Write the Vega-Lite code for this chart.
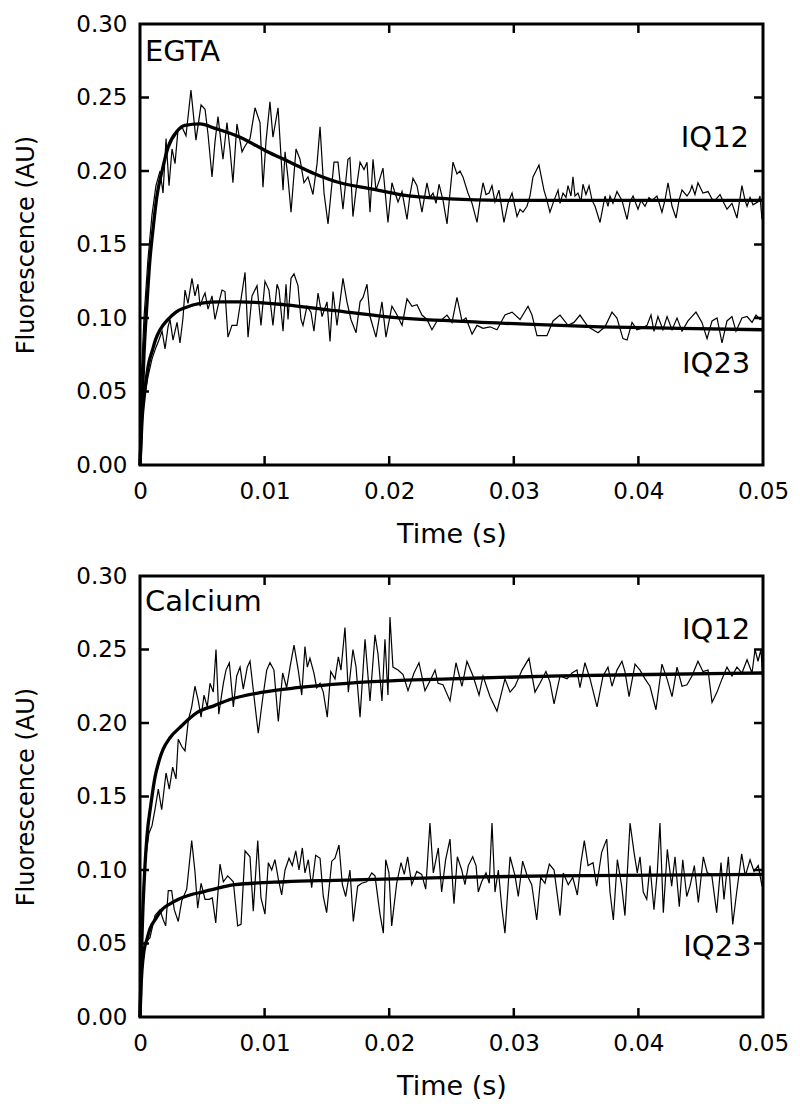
{
  "$schema": "https://vega.github.io/schema/vega-lite/v6.json",
  "padding": {"left": 13, "top": 11, "right": 5, "bottom": 5},
  "spacing": 14,
  "config": {
    "view": {"stroke": "black", "strokeWidth": 3},
    "axis": {
      "domain": false, "grid": false, "ticks": false, "tickSize": 0,
      "labelFont": "DejaVu Sans", "labelFontSize": 23, "labelColor": "black",
      "titleFont": "DejaVu Sans", "titleColor": "black", "titleFontWeight": "normal",
      "labelFlush": false, "labelOverlap": false
    }
  },
  "datasets": {
    "ticks": [
      {"t":0,"t2":0.00072,"v":0.05,"v2":0.05},{"t":0,"t2":0.00072,"v":0.1,"v2":0.1},{"t":0,"t2":0.00072,"v":0.15,"v2":0.15},{"t":0,"t2":0.00072,"v":0.2,"v2":0.2},{"t":0,"t2":0.00072,"v":0.25,"v2":0.25},
      {"t":0.04928,"t2":0.05,"v":0.05,"v2":0.05},{"t":0.04928,"t2":0.05,"v":0.1,"v2":0.1},{"t":0.04928,"t2":0.05,"v":0.15,"v2":0.15},{"t":0.04928,"t2":0.05,"v":0.2,"v2":0.2},{"t":0.04928,"t2":0.05,"v":0.25,"v2":0.25},
      {"t":0.01,"t2":0.01,"v":0,"v2":0.0061},{"t":0.02,"t2":0.02,"v":0,"v2":0.0061},{"t":0.03,"t2":0.03,"v":0,"v2":0.0061},{"t":0.04,"t2":0.04,"v":0,"v2":0.0061},
      {"t":0.01,"t2":0.01,"v":0.2939,"v2":0.3},{"t":0.02,"t2":0.02,"v":0.2939,"v2":0.3},{"t":0.03,"t2":0.03,"v":0.2939,"v2":0.3},{"t":0.04,"t2":0.04,"v":0.2939,"v2":0.3}
    ],
    "e12": [
      {"t":0,"v":0.04},{"t":0.00032,"v":0.10},{"t":0.00064,"v":0.14},{"t":0.00096,"v":0.17},{"t":0.00128,"v":0.19},{"t":0.00161,"v":0.20},{"t":0.00185,"v":0.185},{"t":0.00209,"v":0.222},{"t":0.00233,"v":0.19},{"t":0.00257,"v":0.215},{"t":0.00281,"v":0.205},{"t":0.00305,"v":0.228},{"t":0.00337,"v":0.230},{"t":0.00369,"v":0.224},{"t":0.00409,"v":0.255},{"t":0.00449,"v":0.221},{"t":0.0049,"v":0.245},{"t":0.00522,"v":0.242},{"t":0.00546,"v":0.225},{"t":0.00578,"v":0.196},{"t":0.00602,"v":0.22},{"t":0.00626,"v":0.237},{"t":0.00666,"v":0.208},{"t":0.00698,"v":0.233},{"t":0.00722,"v":0.215},{"t":0.00746,"v":0.192},{"t":0.00778,"v":0.232},{"t":0.00819,"v":0.213},{"t":0.00843,"v":0.217},{"t":0.00883,"v":0.222},{"t":0.00923,"v":0.243},{"t":0.00963,"v":0.233},{"t":0.00987,"v":0.189},{"t":0.01011,"v":0.22},{"t":0.01043,"v":0.247},{"t":0.01067,"v":0.223},{"t":0.01108,"v":0.243},{"t":0.01148,"v":0.187},{"t":0.01164,"v":0.213},{"t":0.01188,"v":0.195},{"t":0.01212,"v":0.172},{"t":0.01252,"v":0.215},{"t":0.01284,"v":0.208},{"t":0.01316,"v":0.192},{"t":0.01348,"v":0.196},{"t":0.01388,"v":0.184},{"t":0.01421,"v":0.205},{"t":0.01445,"v":0.230},{"t":0.01477,"v":0.185},{"t":0.01509,"v":0.164},{"t":0.01557,"v":0.206},{"t":0.01589,"v":0.206},{"t":0.01629,"v":0.174},{"t":0.01669,"v":0.208},{"t":0.01685,"v":0.209},{"t":0.01709,"v":0.169},{"t":0.01734,"v":0.187},{"t":0.01766,"v":0.206},{"t":0.01798,"v":0.201},{"t":0.01822,"v":0.206},{"t":0.01846,"v":0.172},{"t":0.0187,"v":0.208},{"t":0.01894,"v":0.187},{"t":0.01926,"v":0.195},{"t":0.0195,"v":0.202},{"t":0.0199,"v":0.165},{"t":0.02022,"v":0.192},{"t":0.02047,"v":0.185},{"t":0.02071,"v":0.179},{"t":0.02103,"v":0.186},{"t":0.02143,"v":0.167},{"t":0.02167,"v":0.184},{"t":0.02191,"v":0.195},{"t":0.02223,"v":0.190},{"t":0.02263,"v":0.172},{"t":0.02303,"v":0.192},{"t":0.02327,"v":0.182},{"t":0.02352,"v":0.185},{"t":0.02376,"v":0.178},{"t":0.024,"v":0.191},{"t":0.02432,"v":0.18},{"t":0.02464,"v":0.164},{"t":0.02488,"v":0.185},{"t":0.02512,"v":0.206},{"t":0.02544,"v":0.198},{"t":0.02568,"v":0.200},{"t":0.02592,"v":0.196},{"t":0.02632,"v":0.185},{"t":0.02665,"v":0.178},{"t":0.02705,"v":0.165},{"t":0.02729,"v":0.18},{"t":0.02753,"v":0.192},{"t":0.02777,"v":0.184},{"t":0.02801,"v":0.185},{"t":0.02825,"v":0.19},{"t":0.02849,"v":0.179},{"t":0.02881,"v":0.187},{"t":0.02921,"v":0.165},{"t":0.02953,"v":0.178},{"t":0.02986,"v":0.185},{"t":0.03026,"v":0.169},{"t":0.0305,"v":0.174},{"t":0.03074,"v":0.172},{"t":0.03106,"v":0.176},{"t":0.0313,"v":0.183},{"t":0.03154,"v":0.196},{"t":0.03178,"v":0.2},{"t":0.03202,"v":0.204},{"t":0.03242,"v":0.187},{"t":0.03266,"v":0.18},{"t":0.0329,"v":0.172},{"t":0.03323,"v":0.18},{"t":0.03355,"v":0.187},{"t":0.03371,"v":0.178},{"t":0.03395,"v":0.185},{"t":0.03419,"v":0.182},{"t":0.03435,"v":0.190},{"t":0.03459,"v":0.183},{"t":0.03475,"v":0.196},{"t":0.03491,"v":0.183},{"t":0.03515,"v":0.185},{"t":0.03539,"v":0.179},{"t":0.03555,"v":0.191},{"t":0.03579,"v":0.184},{"t":0.03604,"v":0.190},{"t":0.03628,"v":0.18},{"t":0.03652,"v":0.176},{"t":0.03692,"v":0.165},{"t":0.03732,"v":0.183},{"t":0.03756,"v":0.176},{"t":0.03772,"v":0.183},{"t":0.03796,"v":0.178},{"t":0.03828,"v":0.186},{"t":0.03868,"v":0.180},{"t":0.03909,"v":0.167},{"t":0.03933,"v":0.179},{"t":0.03957,"v":0.183},{"t":0.03997,"v":0.174},{"t":0.04021,"v":0.180},{"t":0.04053,"v":0.176},{"t":0.04085,"v":0.182},{"t":0.04109,"v":0.180},{"t":0.04149,"v":0.183},{"t":0.04189,"v":0.172},{"t":0.04213,"v":0.18},{"t":0.04238,"v":0.192},{"t":0.0427,"v":0.176},{"t":0.04302,"v":0.168},{"t":0.04326,"v":0.18},{"t":0.0435,"v":0.187},{"t":0.0439,"v":0.183},{"t":0.04414,"v":0.186},{"t":0.0443,"v":0.190},{"t":0.04454,"v":0.184},{"t":0.04478,"v":0.192},{"t":0.04518,"v":0.185},{"t":0.04559,"v":0.186},{"t":0.04591,"v":0.181},{"t":0.04615,"v":0.180},{"t":0.04655,"v":0.184},{"t":0.04687,"v":0.178},{"t":0.04711,"v":0.174},{"t":0.04751,"v":0.178},{"t":0.04791,"v":0.168},{"t":0.04831,"v":0.190},{"t":0.04856,"v":0.18},{"t":0.04872,"v":0.176},{"t":0.04896,"v":0.182},{"t":0.0492,"v":0.177},{"t":0.0496,"v":0.179},{"t":0.04976,"v":0.183},{"t":0.04992,"v":0.167},{"t":0.05,"v":0.172}
    ],
    "e23": [
      {"t":0,"v":0.02},{"t":0.00032,"v":0.045},{"t":0.00064,"v":0.06},{"t":0.00096,"v":0.072},{"t":0.00128,"v":0.08},{"t":0.00152,"v":0.085},{"t":0.00177,"v":0.091},{"t":0.00201,"v":0.079},{"t":0.00225,"v":0.094},{"t":0.00241,"v":0.099},{"t":0.00265,"v":0.085},{"t":0.00297,"v":0.097},{"t":0.00321,"v":0.083},{"t":0.00345,"v":0.1},{"t":0.00361,"v":0.119},{"t":0.00385,"v":0.110},{"t":0.00417,"v":0.127},{"t":0.00441,"v":0.115},{"t":0.00465,"v":0.123},{"t":0.00482,"v":0.108},{"t":0.00506,"v":0.114},{"t":0.00522,"v":0.117},{"t":0.00546,"v":0.106},{"t":0.00578,"v":0.115},{"t":0.00602,"v":0.099},{"t":0.00626,"v":0.108},{"t":0.00658,"v":0.119},{"t":0.00682,"v":0.118},{"t":0.00706,"v":0.087},{"t":0.00738,"v":0.095},{"t":0.00778,"v":0.095},{"t":0.00811,"v":0.113},{"t":0.00843,"v":0.131},{"t":0.00867,"v":0.087},{"t":0.00899,"v":0.115},{"t":0.00939,"v":0.122},{"t":0.00971,"v":0.095},{"t":0.01003,"v":0.125},{"t":0.01035,"v":0.119},{"t":0.01067,"v":0.095},{"t":0.011,"v":0.123},{"t":0.01116,"v":0.119},{"t":0.01148,"v":0.091},{"t":0.01172,"v":0.123},{"t":0.01188,"v":0.099},{"t":0.01212,"v":0.127},{"t":0.01236,"v":0.130},{"t":0.01268,"v":0.122},{"t":0.01292,"v":0.099},{"t":0.01308,"v":0.095},{"t":0.0134,"v":0.108},{"t":0.01372,"v":0.104},{"t":0.01396,"v":0.091},{"t":0.01429,"v":0.117},{"t":0.01461,"v":0.101},{"t":0.01501,"v":0.111},{"t":0.01525,"v":0.084},{"t":0.01549,"v":0.118},{"t":0.01581,"v":0.095},{"t":0.01629,"v":0.127},{"t":0.01661,"v":0.111},{"t":0.01693,"v":0.099},{"t":0.01734,"v":0.090},{"t":0.01766,"v":0.111},{"t":0.0179,"v":0.114},{"t":0.01822,"v":0.123},{"t":0.01846,"v":0.101},{"t":0.01894,"v":0.087},{"t":0.01942,"v":0.111},{"t":0.01974,"v":0.087},{"t":0.02022,"v":0.108},{"t":0.02063,"v":0.102},{"t":0.02103,"v":0.095},{"t":0.02143,"v":0.113},{"t":0.02183,"v":0.108},{"t":0.02223,"v":0.109},{"t":0.02263,"v":0.102},{"t":0.02303,"v":0.099},{"t":0.02343,"v":0.092},{"t":0.02384,"v":0.098},{"t":0.02424,"v":0.099},{"t":0.02464,"v":0.102},{"t":0.02504,"v":0.097},{"t":0.02544,"v":0.114},{"t":0.02584,"v":0.098},{"t":0.02616,"v":0.100},{"t":0.02665,"v":0.089},{"t":0.02705,"v":0.095},{"t":0.02753,"v":0.093},{"t":0.02809,"v":0.094},{"t":0.02865,"v":0.092},{"t":0.02929,"v":0.102},{"t":0.02986,"v":0.104},{"t":0.0305,"v":0.099},{"t":0.03114,"v":0.108},{"t":0.03146,"v":0.102},{"t":0.03186,"v":0.088},{"t":0.03266,"v":0.088},{"t":0.03315,"v":0.098},{"t":0.03371,"v":0.102},{"t":0.03435,"v":0.095},{"t":0.03483,"v":0.097},{"t":0.03531,"v":0.102},{"t":0.03596,"v":0.094},{"t":0.03676,"v":0.090},{"t":0.03732,"v":0.094},{"t":0.03788,"v":0.104},{"t":0.03828,"v":0.100},{"t":0.03876,"v":0.086},{"t":0.03909,"v":0.085},{"t":0.03949,"v":0.097},{"t":0.03989,"v":0.092},{"t":0.04029,"v":0.093},{"t":0.04069,"v":0.095},{"t":0.04101,"v":0.102},{"t":0.04125,"v":0.091},{"t":0.04157,"v":0.101},{"t":0.04197,"v":0.092},{"t":0.0423,"v":0.101},{"t":0.0427,"v":0.092},{"t":0.0431,"v":0.100},{"t":0.0435,"v":0.091},{"t":0.04398,"v":0.098},{"t":0.04462,"v":0.104},{"t":0.0451,"v":0.097},{"t":0.04551,"v":0.086},{"t":0.04591,"v":0.098},{"t":0.04631,"v":0.100},{"t":0.04671,"v":0.083},{"t":0.04711,"v":0.098},{"t":0.04751,"v":0.101},{"t":0.04783,"v":0.091},{"t":0.04831,"v":0.100},{"t":0.04872,"v":0.101},{"t":0.04912,"v":0.097},{"t":0.04944,"v":0.102},{"t":0.04976,"v":0.099},{"t":0.05,"v":0.100}
    ],
    "fe12": [
      {"t":0,"v":0},{"t":0.00016,"v":0.04},{"t":0.00032,"v":0.075},{"t":0.00056,"v":0.11},{"t":0.0008,"v":0.14},{"t":0.00104,"v":0.16},{"t":0.00136,"v":0.183},{"t":0.00177,"v":0.20},{"t":0.00225,"v":0.216},{"t":0.00297,"v":0.227},{"t":0.00361,"v":0.231},{"t":0.00482,"v":0.232},{"t":0.00602,"v":0.229},{"t":0.00803,"v":0.223},{"t":0.01003,"v":0.214},{"t":0.01204,"v":0.206},{"t":0.01405,"v":0.198},{"t":0.01605,"v":0.192},{"t":0.01846,"v":0.188},{"t":0.02087,"v":0.184},{"t":0.02488,"v":0.181},{"t":0.02889,"v":0.180},{"t":0.03692,"v":0.180},{"t":0.05,"v":0.180}
    ],
    "fe23": [
      {"t":0,"v":0},{"t":0.00008,"v":0.015},{"t":0.00016,"v":0.03},{"t":0.00032,"v":0.045},{"t":0.00048,"v":0.057},{"t":0.00072,"v":0.07},{"t":0.00096,"v":0.077},{"t":0.00128,"v":0.086},{"t":0.00161,"v":0.092},{"t":0.00225,"v":0.099},{"t":0.00289,"v":0.104},{"t":0.00361,"v":0.107},{"t":0.00482,"v":0.110},{"t":0.00642,"v":0.111},{"t":0.00803,"v":0.111},{"t":0.01164,"v":0.109},{"t":0.01565,"v":0.105},{"t":0.01966,"v":0.101},{"t":0.02504,"v":0.098},{"t":0.0305,"v":0.096},{"t":0.03692,"v":0.094},{"t":0.04334,"v":0.093},{"t":0.05,"v":0.092}
    ],
    "c12": [
      {"t":0,"v":0.03},{"t":0.00024,"v":0.08},{"t":0.00048,"v":0.11},{"t":0.00072,"v":0.125},{"t":0.00096,"v":0.13},{"t":0.0012,"v":0.141},{"t":0.00147,"v":0.155},{"t":0.00174,"v":0.141},{"t":0.00209,"v":0.166},{"t":0.00235,"v":0.155},{"t":0.00262,"v":0.170},{"t":0.00289,"v":0.162},{"t":0.00307,"v":0.189},{"t":0.00335,"v":0.184},{"t":0.00361,"v":0.181},{"t":0.00388,"v":0.202},{"t":0.00415,"v":0.211},{"t":0.00441,"v":0.225},{"t":0.00468,"v":0.215},{"t":0.0049,"v":0.204},{"t":0.00514,"v":0.219},{"t":0.0054,"v":0.211},{"t":0.00562,"v":0.227},{"t":0.00588,"v":0.221},{"t":0.0061,"v":0.250},{"t":0.00632,"v":0.206},{"t":0.00669,"v":0.227},{"t":0.0069,"v":0.236},{"t":0.00717,"v":0.241},{"t":0.00749,"v":0.211},{"t":0.00776,"v":0.232},{"t":0.00803,"v":0.238},{"t":0.00829,"v":0.223},{"t":0.00861,"v":0.238},{"t":0.00883,"v":0.242},{"t":0.00915,"v":0.218},{"t":0.00949,"v":0.193},{"t":0.00985,"v":0.217},{"t":0.01017,"v":0.236},{"t":0.01043,"v":0.241},{"t":0.01075,"v":0.236},{"t":0.0111,"v":0.201},{"t":0.01145,"v":0.234},{"t":0.01177,"v":0.224},{"t":0.01204,"v":0.238},{"t":0.01236,"v":0.253},{"t":0.0127,"v":0.236},{"t":0.01298,"v":0.219},{"t":0.01324,"v":0.252},{"t":0.01343,"v":0.238},{"t":0.01364,"v":0.244},{"t":0.01396,"v":0.234},{"t":0.01418,"v":0.224},{"t":0.01445,"v":0.227},{"t":0.01471,"v":0.221},{"t":0.01503,"v":0.204},{"t":0.01531,"v":0.235},{"t":0.01565,"v":0.230},{"t":0.01592,"v":0.245},{"t":0.01613,"v":0.236},{"t":0.01645,"v":0.265},{"t":0.01672,"v":0.221},{"t":0.01709,"v":0.250},{"t":0.01734,"v":0.238},{"t":0.01766,"v":0.204},{"t":0.01806,"v":0.257},{"t":0.01846,"v":0.215},{"t":0.01886,"v":0.260},{"t":0.0191,"v":0.247},{"t":0.01942,"v":0.215},{"t":0.01966,"v":0.257},{"t":0.0199,"v":0.219},{"t":0.02006,"v":0.272},{"t":0.0203,"v":0.238},{"t":0.02071,"v":0.236},{"t":0.02111,"v":0.233},{"t":0.02151,"v":0.222},{"t":0.02199,"v":0.234},{"t":0.02239,"v":0.241},{"t":0.02287,"v":0.222},{"t":0.02335,"v":0.230},{"t":0.02368,"v":0.236},{"t":0.02392,"v":0.227},{"t":0.02432,"v":0.226},{"t":0.02488,"v":0.215},{"t":0.02536,"v":0.241},{"t":0.02584,"v":0.225},{"t":0.02624,"v":0.242},{"t":0.02673,"v":0.232},{"t":0.02721,"v":0.219},{"t":0.02753,"v":0.232},{"t":0.02809,"v":0.218},{"t":0.02865,"v":0.208},{"t":0.02929,"v":0.230},{"t":0.0297,"v":0.221},{"t":0.0301,"v":0.225},{"t":0.03066,"v":0.236},{"t":0.03122,"v":0.244},{"t":0.0317,"v":0.221},{"t":0.0321,"v":0.227},{"t":0.03258,"v":0.235},{"t":0.0329,"v":0.228},{"t":0.03323,"v":0.213},{"t":0.03371,"v":0.232},{"t":0.03427,"v":0.230},{"t":0.03467,"v":0.234},{"t":0.03507,"v":0.236},{"t":0.03531,"v":0.224},{"t":0.03571,"v":0.241},{"t":0.03612,"v":0.230},{"t":0.03668,"v":0.211},{"t":0.03716,"v":0.232},{"t":0.03756,"v":0.238},{"t":0.03788,"v":0.225},{"t":0.03828,"v":0.236},{"t":0.03868,"v":0.242},{"t":0.03892,"v":0.235},{"t":0.03925,"v":0.218},{"t":0.03973,"v":0.240},{"t":0.04013,"v":0.236},{"t":0.04053,"v":0.230},{"t":0.04093,"v":0.225},{"t":0.04141,"v":0.209},{"t":0.04189,"v":0.240},{"t":0.0423,"v":0.230},{"t":0.0427,"v":0.218},{"t":0.0431,"v":0.238},{"t":0.0435,"v":0.225},{"t":0.0439,"v":0.226},{"t":0.0443,"v":0.232},{"t":0.04478,"v":0.242},{"t":0.04518,"v":0.235},{"t":0.04559,"v":0.236},{"t":0.04591,"v":0.214},{"t":0.04631,"v":0.221},{"t":0.04671,"v":0.230},{"t":0.04711,"v":0.238},{"t":0.04751,"v":0.232},{"t":0.04791,"v":0.238},{"t":0.04831,"v":0.234},{"t":0.04872,"v":0.243},{"t":0.04912,"v":0.234},{"t":0.04936,"v":0.250},{"t":0.0496,"v":0.242},{"t":0.04984,"v":0.250},{"t":0.05,"v":0.227}
    ],
    "c23": [
      {"t":0,"v":0.01},{"t":0.00016,"v":0.03},{"t":0.0004,"v":0.050},{"t":0.0008,"v":0.054},{"t":0.0012,"v":0.069},{"t":0.0016,"v":0.073},{"t":0.00187,"v":0.066},{"t":0.00206,"v":0.062},{"t":0.00227,"v":0.086},{"t":0.00254,"v":0.086},{"t":0.00275,"v":0.073},{"t":0.00307,"v":0.065},{"t":0.00335,"v":0.079},{"t":0.00375,"v":0.087},{"t":0.00415,"v":0.120},{"t":0.00441,"v":0.099},{"t":0.00463,"v":0.074},{"t":0.0049,"v":0.091},{"t":0.00522,"v":0.080},{"t":0.00554,"v":0.080},{"t":0.0058,"v":0.081},{"t":0.00608,"v":0.064},{"t":0.00642,"v":0.104},{"t":0.00669,"v":0.092},{"t":0.00704,"v":0.096},{"t":0.00749,"v":0.092},{"t":0.00784,"v":0.062},{"t":0.00811,"v":0.063},{"t":0.00843,"v":0.113},{"t":0.00883,"v":0.109},{"t":0.00909,"v":0.072},{"t":0.00945,"v":0.120},{"t":0.00971,"v":0.081},{"t":0.01003,"v":0.070},{"t":0.0103,"v":0.105},{"t":0.01057,"v":0.100},{"t":0.01083,"v":0.107},{"t":0.0111,"v":0.094},{"t":0.01137,"v":0.083},{"t":0.01164,"v":0.100},{"t":0.01196,"v":0.108},{"t":0.01222,"v":0.103},{"t":0.0125,"v":0.113},{"t":0.01276,"v":0.100},{"t":0.01303,"v":0.115},{"t":0.01324,"v":0.098},{"t":0.01351,"v":0.107},{"t":0.01378,"v":0.088},{"t":0.0141,"v":0.110},{"t":0.01445,"v":0.108},{"t":0.01471,"v":0.082},{"t":0.01498,"v":0.071},{"t":0.01539,"v":0.106},{"t":0.01565,"v":0.108},{"t":0.01597,"v":0.117},{"t":0.01624,"v":0.090},{"t":0.01651,"v":0.082},{"t":0.01685,"v":0.100},{"t":0.01712,"v":0.065},{"t":0.01747,"v":0.089},{"t":0.01779,"v":0.091},{"t":0.01819,"v":0.092},{"t":0.0186,"v":0.098},{"t":0.01886,"v":0.096},{"t":0.01926,"v":0.070},{"t":0.01953,"v":0.057},{"t":0.01972,"v":0.107},{"t":0.01998,"v":0.098},{"t":0.0202,"v":0.062},{"t":0.0206,"v":0.091},{"t":0.02095,"v":0.105},{"t":0.02121,"v":0.097},{"t":0.02148,"v":0.109},{"t":0.02181,"v":0.090},{"t":0.02221,"v":0.099},{"t":0.02261,"v":0.097},{"t":0.02293,"v":0.087},{"t":0.02327,"v":0.132},{"t":0.02354,"v":0.098},{"t":0.02394,"v":0.115},{"t":0.02421,"v":0.085},{"t":0.02453,"v":0.107},{"t":0.02488,"v":0.121},{"t":0.02514,"v":0.084},{"t":0.0252,"v":0.077},{"t":0.02547,"v":0.109},{"t":0.02582,"v":0.100},{"t":0.02608,"v":0.090},{"t":0.02635,"v":0.103},{"t":0.0267,"v":0.109},{"t":0.02697,"v":0.103},{"t":0.02715,"v":0.085},{"t":0.02742,"v":0.092},{"t":0.02777,"v":0.098},{"t":0.02803,"v":0.091},{"t":0.02825,"v":0.132},{"t":0.02849,"v":0.085},{"t":0.02876,"v":0.100},{"t":0.02903,"v":0.075},{"t":0.02929,"v":0.057},{"t":0.0297,"v":0.109},{"t":0.0301,"v":0.096},{"t":0.03036,"v":0.082},{"t":0.03071,"v":0.106},{"t":0.03104,"v":0.097},{"t":0.03144,"v":0.090},{"t":0.03184,"v":0.066},{"t":0.03216,"v":0.095},{"t":0.0325,"v":0.091},{"t":0.03285,"v":0.104},{"t":0.03323,"v":0.100},{"t":0.03371,"v":0.069},{"t":0.03397,"v":0.098},{"t":0.03437,"v":0.090},{"t":0.03473,"v":0.095},{"t":0.0351,"v":0.083},{"t":0.03539,"v":0.105},{"t":0.03566,"v":0.120},{"t":0.03596,"v":0.103},{"t":0.03636,"v":0.105},{"t":0.03665,"v":0.089},{"t":0.03705,"v":0.112},{"t":0.03746,"v":0.121},{"t":0.03772,"v":0.085},{"t":0.03799,"v":0.066},{"t":0.03831,"v":0.107},{"t":0.03866,"v":0.089},{"t":0.03892,"v":0.069},{"t":0.03933,"v":0.132},{"t":0.03965,"v":0.112},{"t":0.03991,"v":0.098},{"t":0.04013,"v":0.109},{"t":0.04039,"v":0.085},{"t":0.04067,"v":0.080},{"t":0.04093,"v":0.103},{"t":0.04125,"v":0.073},{"t":0.04152,"v":0.099},{"t":0.04173,"v":0.132},{"t":0.042,"v":0.071},{"t":0.04232,"v":0.114},{"t":0.04267,"v":0.089},{"t":0.04294,"v":0.109},{"t":0.04328,"v":0.075},{"t":0.04356,"v":0.107},{"t":0.04388,"v":0.082},{"t":0.04414,"v":0.089},{"t":0.04449,"v":0.103},{"t":0.04481,"v":0.078},{"t":0.04521,"v":0.109},{"t":0.04553,"v":0.098},{"t":0.04588,"v":0.097},{"t":0.04628,"v":0.071},{"t":0.04663,"v":0.105},{"t":0.04687,"v":0.080},{"t":0.04722,"v":0.109},{"t":0.04757,"v":0.063},{"t":0.04789,"v":0.085},{"t":0.04829,"v":0.111},{"t":0.04858,"v":0.096},{"t":0.04896,"v":0.107},{"t":0.04928,"v":0.099},{"t":0.04962,"v":0.103},{"t":0.04992,"v":0.089},{"t":0.05,"v":0.095}
    ],
    "fc12": [
      {"t":0,"v":0},{"t":0.00008,"v":0.03},{"t":0.00016,"v":0.055},{"t":0.00024,"v":0.075},{"t":0.00032,"v":0.09},{"t":0.0004,"v":0.103},{"t":0.00056,"v":0.123},{"t":0.00088,"v":0.145},{"t":0.0012,"v":0.163},{"t":0.00152,"v":0.174},{"t":0.00185,"v":0.182},{"t":0.00241,"v":0.19},{"t":0.00321,"v":0.197},{"t":0.00457,"v":0.207},{"t":0.00602,"v":0.212},{"t":0.00722,"v":0.216},{"t":0.00987,"v":0.221},{"t":0.0126,"v":0.224},{"t":0.01661,"v":0.227},{"t":0.02087,"v":0.229},{"t":0.02488,"v":0.230},{"t":0.02889,"v":0.231},{"t":0.03371,"v":0.232},{"t":0.04093,"v":0.233},{"t":0.05,"v":0.234}
    ],
    "fc23": [
      {"t":0,"v":0},{"t":0.00008,"v":0.02},{"t":0.00016,"v":0.032},{"t":0.00032,"v":0.045},{"t":0.00056,"v":0.053},{"t":0.0008,"v":0.06},{"t":0.00128,"v":0.067},{"t":0.00177,"v":0.073},{"t":0.00241,"v":0.077},{"t":0.00305,"v":0.080},{"t":0.00401,"v":0.083},{"t":0.00498,"v":0.085},{"t":0.00642,"v":0.088},{"t":0.00762,"v":0.090},{"t":0.01164,"v":0.092},{"t":0.01565,"v":0.093},{"t":0.02504,"v":0.095},{"t":0.0329,"v":0.096},{"t":0.05,"v":0.097}
    ]
  },
  "vconcat": [
    {
      "width": 623, "height": 441,
      "encoding": {
        "x": {"field": "t", "type": "quantitative", "scale": {"domain": [0, 0.05], "nice": false},
              "axis": {"orient": "bottom", "values": [0, 0.01, 0.02, 0.03, 0.04, 0.05], "labelExpr": "datum.value === 0 ? '0' : format(datum.value, '.2f')", "labelPadding": 15, "title": "Time (s)", "titleFontSize": 27, "titlePadding": 18}},
        "y": {"field": "v", "type": "quantitative", "scale": {"domain": [0, 0.3], "nice": false},
              "axis": {"orient": "left", "values": [0, 0.05, 0.1, 0.15, 0.2, 0.25, 0.3], "format": ".2f", "labelPadding": 13, "title": "Fluorescence (AU)", "titleFontSize": 24, "titlePadding": 37}}
      },
      "layer": [
        {"data": {"name": "e12"}, "mark": {"type": "line", "color": "black", "strokeWidth": 1.2}},
        {"data": {"name": "e23"}, "mark": {"type": "line", "color": "black", "strokeWidth": 1.2}},
        {"data": {"name": "fe12"}, "mark": {"type": "line", "color": "black", "strokeWidth": 3.3, "interpolate": "monotone"}},
        {"data": {"name": "fe23"}, "mark": {"type": "line", "color": "black", "strokeWidth": 3.3, "interpolate": "monotone"}},
        {"data": {"name": "ticks"}, "mark": {"type": "rule", "color": "black", "strokeWidth": 2.5},
         "encoding": {"x2": {"field": "t2"}, "y2": {"field": "v2"}}},
        {"data": {"values": [{"t": 0.0004, "v": 0.281, "label": "EGTA"}, {"t": 0.0434, "v": 0.2224, "label": "IQ12"}, {"t": 0.0435, "v": 0.069, "label": "IQ23"}]},
         "mark": {"type": "text", "align": "left", "baseline": "middle", "font": "DejaVu Sans", "fontSize": 29, "color": "black"},
         "encoding": {"text": {"field": "label"}}}
      ]
    },
    {
      "width": 623, "height": 441,
      "encoding": {
        "x": {"field": "t", "type": "quantitative", "scale": {"domain": [0, 0.05], "nice": false},
              "axis": {"orient": "bottom", "values": [0, 0.01, 0.02, 0.03, 0.04, 0.05], "labelExpr": "datum.value === 0 ? '0' : format(datum.value, '.2f')", "labelPadding": 15, "title": "Time (s)", "titleFontSize": 27, "titlePadding": 18}},
        "y": {"field": "v", "type": "quantitative", "scale": {"domain": [0, 0.3], "nice": false},
              "axis": {"orient": "left", "values": [0, 0.05, 0.1, 0.15, 0.2, 0.25, 0.3], "format": ".2f", "labelPadding": 13, "title": "Fluorescence (AU)", "titleFontSize": 24, "titlePadding": 37}}
      },
      "layer": [
        {"data": {"name": "c12"}, "mark": {"type": "line", "color": "black", "strokeWidth": 1.2}},
        {"data": {"name": "c23"}, "mark": {"type": "line", "color": "black", "strokeWidth": 1.2}},
        {"data": {"name": "fc12"}, "mark": {"type": "line", "color": "black", "strokeWidth": 3.3, "interpolate": "monotone"}},
        {"data": {"name": "fc23"}, "mark": {"type": "line", "color": "black", "strokeWidth": 3.3, "interpolate": "monotone"}},
        {"data": {"name": "ticks"}, "mark": {"type": "rule", "color": "black", "strokeWidth": 2.5},
         "encoding": {"x2": {"field": "t2"}, "y2": {"field": "v2"}}},
        {"data": {"values": [{"t": 0.0004, "v": 0.282, "label": "Calcium"}, {"t": 0.0435, "v": 0.2636, "label": "IQ12"}, {"t": 0.0436, "v": 0.0473, "label": "IQ23"}]},
         "mark": {"type": "text", "align": "left", "baseline": "middle", "font": "DejaVu Sans", "fontSize": 29, "color": "black"},
         "encoding": {"text": {"field": "label"}}}
      ]
    }
  ]
}
